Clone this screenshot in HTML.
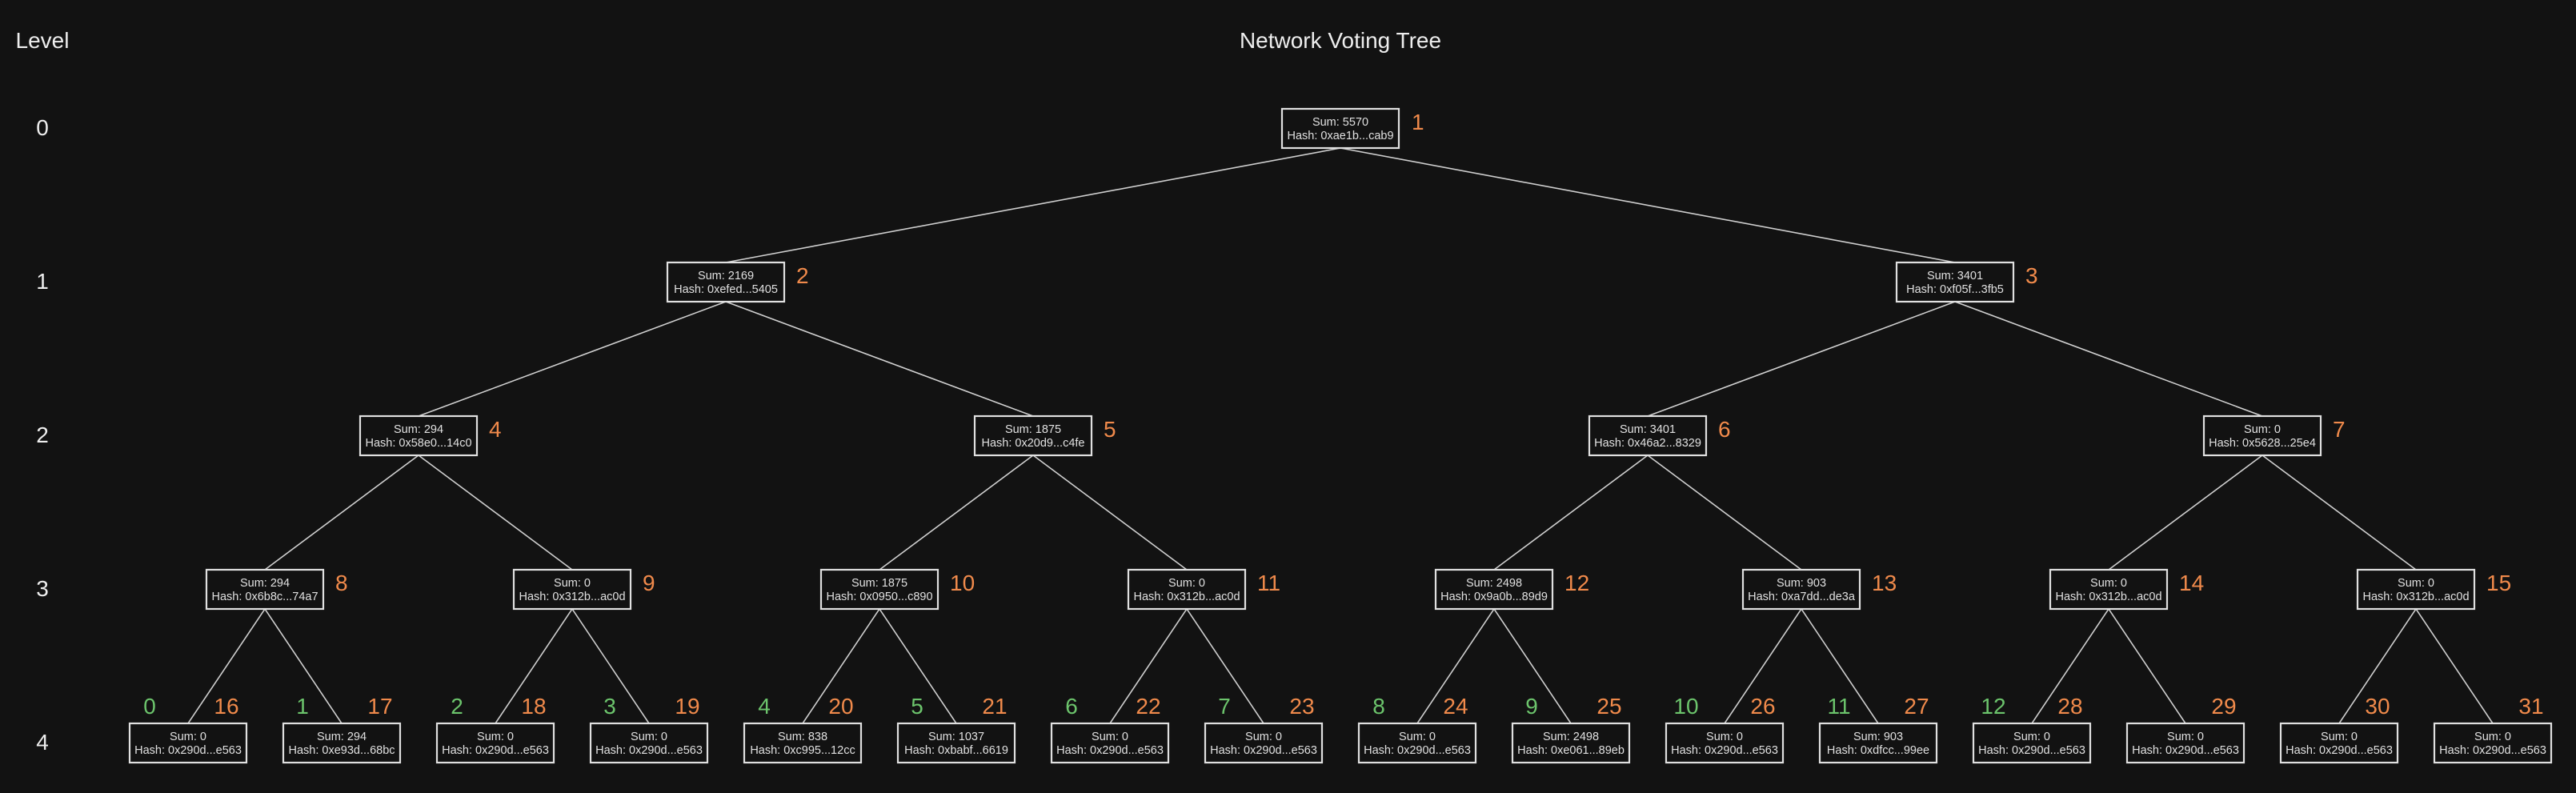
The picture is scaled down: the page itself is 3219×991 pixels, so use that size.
<!DOCTYPE html>
<html><head><meta charset="utf-8"><style>
html,body{margin:0;padding:0;background:#121212;}
svg{display:block;font-family:"Liberation Sans",sans-serif;}
.b rect{fill:#121212;stroke:#e0e0e0;stroke-width:2.2}
.b text{fill:#e0e0e0;font-size:14.5px;text-anchor:middle}
.o{fill:#f08a4b;font-size:28px}
.g{fill:#6cc46c;font-size:28px;text-anchor:middle}
.lv{fill:#eeeeee;font-size:28px;text-anchor:middle}
line{stroke:#cfcfcf;stroke-width:1.6}
</style></head><body>
<svg width="3219" height="991" viewBox="0 0 3219 991">
<rect width="3219" height="991" fill="#121212"/>
<text x="1675" y="60" fill="#eeeeee" font-size="28" text-anchor="middle">Network Voting Tree</text>
<text x="53" y="60" class="lv">Level</text>
<text x="53" y="169" class="lv">0</text>
<text x="53" y="361" class="lv">1</text>
<text x="53" y="553" class="lv">2</text>
<text x="53" y="745" class="lv">3</text>
<text x="53" y="937" class="lv">4</text>
<g>
<line x1="1675" y1="185" x2="907" y2="328"/><line x1="1675" y1="185" x2="2443" y2="328"/>
<line x1="907" y1="377" x2="523" y2="520"/><line x1="907" y1="377" x2="1291" y2="520"/>
<line x1="2443" y1="377" x2="2059" y2="520"/><line x1="2443" y1="377" x2="2827" y2="520"/>
<line x1="523" y1="569" x2="331" y2="712"/><line x1="523" y1="569" x2="715" y2="712"/>
<line x1="1291" y1="569" x2="1099" y2="712"/><line x1="1291" y1="569" x2="1483" y2="712"/>
<line x1="2059" y1="569" x2="1867" y2="712"/><line x1="2059" y1="569" x2="2251" y2="712"/>
<line x1="2827" y1="569" x2="2635" y2="712"/><line x1="2827" y1="569" x2="3019" y2="712"/>
<line x1="331" y1="761" x2="235" y2="904"/><line x1="331" y1="761" x2="427" y2="904"/>
<line x1="715" y1="761" x2="619" y2="904"/><line x1="715" y1="761" x2="811" y2="904"/>
<line x1="1099" y1="761" x2="1003" y2="904"/><line x1="1099" y1="761" x2="1195" y2="904"/>
<line x1="1483" y1="761" x2="1387" y2="904"/><line x1="1483" y1="761" x2="1579" y2="904"/>
<line x1="1867" y1="761" x2="1771" y2="904"/><line x1="1867" y1="761" x2="1963" y2="904"/>
<line x1="2251" y1="761" x2="2155" y2="904"/><line x1="2251" y1="761" x2="2347" y2="904"/>
<line x1="2635" y1="761" x2="2539" y2="904"/><line x1="2635" y1="761" x2="2731" y2="904"/>
<line x1="3019" y1="761" x2="2923" y2="904"/><line x1="3019" y1="761" x2="3115" y2="904"/>
</g>
<!-- level 0 -->
<g class="b" transform="translate(1675,160)"><rect x="-73" y="-24" width="146" height="49"/><text y="-3">Sum: 5570</text><text y="14">Hash: 0xae1b...cab9</text></g>
<text class="o" x="1764" y="162">1</text>
<!-- level 1 -->
<g class="b" transform="translate(907,352)"><rect x="-73" y="-24" width="146" height="49"/><text y="-3">Sum: 2169</text><text y="14">Hash: 0xefed...5405</text></g>
<text class="o" x="995" y="354">2</text>
<g class="b" transform="translate(2443,352)"><rect x="-73" y="-24" width="146" height="49"/><text y="-3">Sum: 3401</text><text y="14">Hash: 0xf05f...3fb5</text></g>
<text class="o" x="2531" y="354">3</text>
<!-- level 2 -->
<g class="b" transform="translate(523,544)"><rect x="-73" y="-24" width="146" height="49"/><text y="-3">Sum: 294</text><text y="14">Hash: 0x58e0...14c0</text></g>
<text class="o" x="611" y="546">4</text>
<g class="b" transform="translate(1291,544)"><rect x="-73" y="-24" width="146" height="49"/><text y="-3">Sum: 1875</text><text y="14">Hash: 0x20d9...c4fe</text></g>
<text class="o" x="1379" y="546">5</text>
<g class="b" transform="translate(2059,544)"><rect x="-73" y="-24" width="146" height="49"/><text y="-3">Sum: 3401</text><text y="14">Hash: 0x46a2...8329</text></g>
<text class="o" x="2147" y="546">6</text>
<g class="b" transform="translate(2827,544)"><rect x="-73" y="-24" width="146" height="49"/><text y="-3">Sum: 0</text><text y="14">Hash: 0x5628...25e4</text></g>
<text class="o" x="2915" y="546">7</text>
<!-- level 3 -->
<g class="b" transform="translate(331,736)"><rect x="-73" y="-24" width="146" height="49"/><text y="-3">Sum: 294</text><text y="14">Hash: 0x6b8c...74a7</text></g>
<text class="o" x="419" y="738">8</text>
<g class="b" transform="translate(715,736)"><rect x="-73" y="-24" width="146" height="49"/><text y="-3">Sum: 0</text><text y="14">Hash: 0x312b...ac0d</text></g>
<text class="o" x="803" y="738">9</text>
<g class="b" transform="translate(1099,736)"><rect x="-73" y="-24" width="146" height="49"/><text y="-3">Sum: 1875</text><text y="14">Hash: 0x0950...c890</text></g>
<text class="o" x="1187" y="738">10</text>
<g class="b" transform="translate(1483,736)"><rect x="-73" y="-24" width="146" height="49"/><text y="-3">Sum: 0</text><text y="14">Hash: 0x312b...ac0d</text></g>
<text class="o" x="1571" y="738">11</text>
<g class="b" transform="translate(1867,736)"><rect x="-73" y="-24" width="146" height="49"/><text y="-3">Sum: 2498</text><text y="14">Hash: 0x9a0b...89d9</text></g>
<text class="o" x="1955" y="738">12</text>
<g class="b" transform="translate(2251,736)"><rect x="-73" y="-24" width="146" height="49"/><text y="-3">Sum: 903</text><text y="14">Hash: 0xa7dd...de3a</text></g>
<text class="o" x="2339" y="738">13</text>
<g class="b" transform="translate(2635,736)"><rect x="-73" y="-24" width="146" height="49"/><text y="-3">Sum: 0</text><text y="14">Hash: 0x312b...ac0d</text></g>
<text class="o" x="2723" y="738">14</text>
<g class="b" transform="translate(3019,736)"><rect x="-73" y="-24" width="146" height="49"/><text y="-3">Sum: 0</text><text y="14">Hash: 0x312b...ac0d</text></g>
<text class="o" x="3107" y="738">15</text>
<!-- level 4 -->
<g class="b" transform="translate(235,928)"><rect x="-73" y="-24" width="146" height="49"/><text y="-3">Sum: 0</text><text y="14">Hash: 0x290d...e563</text></g>
<g class="b" transform="translate(427,928)"><rect x="-73" y="-24" width="146" height="49"/><text y="-3">Sum: 294</text><text y="14">Hash: 0xe93d...68bc</text></g>
<g class="b" transform="translate(619,928)"><rect x="-73" y="-24" width="146" height="49"/><text y="-3">Sum: 0</text><text y="14">Hash: 0x290d...e563</text></g>
<g class="b" transform="translate(811,928)"><rect x="-73" y="-24" width="146" height="49"/><text y="-3">Sum: 0</text><text y="14">Hash: 0x290d...e563</text></g>
<g class="b" transform="translate(1003,928)"><rect x="-73" y="-24" width="146" height="49"/><text y="-3">Sum: 838</text><text y="14">Hash: 0xc995...12cc</text></g>
<g class="b" transform="translate(1195,928)"><rect x="-73" y="-24" width="146" height="49"/><text y="-3">Sum: 1037</text><text y="14">Hash: 0xbabf...6619</text></g>
<g class="b" transform="translate(1387,928)"><rect x="-73" y="-24" width="146" height="49"/><text y="-3">Sum: 0</text><text y="14">Hash: 0x290d...e563</text></g>
<g class="b" transform="translate(1579,928)"><rect x="-73" y="-24" width="146" height="49"/><text y="-3">Sum: 0</text><text y="14">Hash: 0x290d...e563</text></g>
<g class="b" transform="translate(1771,928)"><rect x="-73" y="-24" width="146" height="49"/><text y="-3">Sum: 0</text><text y="14">Hash: 0x290d...e563</text></g>
<g class="b" transform="translate(1963,928)"><rect x="-73" y="-24" width="146" height="49"/><text y="-3">Sum: 2498</text><text y="14">Hash: 0xe061...89eb</text></g>
<g class="b" transform="translate(2155,928)"><rect x="-73" y="-24" width="146" height="49"/><text y="-3">Sum: 0</text><text y="14">Hash: 0x290d...e563</text></g>
<g class="b" transform="translate(2347,928)"><rect x="-73" y="-24" width="146" height="49"/><text y="-3">Sum: 903</text><text y="14">Hash: 0xdfcc...99ee</text></g>
<g class="b" transform="translate(2539,928)"><rect x="-73" y="-24" width="146" height="49"/><text y="-3">Sum: 0</text><text y="14">Hash: 0x290d...e563</text></g>
<g class="b" transform="translate(2731,928)"><rect x="-73" y="-24" width="146" height="49"/><text y="-3">Sum: 0</text><text y="14">Hash: 0x290d...e563</text></g>
<g class="b" transform="translate(2923,928)"><rect x="-73" y="-24" width="146" height="49"/><text y="-3">Sum: 0</text><text y="14">Hash: 0x290d...e563</text></g>
<g class="b" transform="translate(3115,928)"><rect x="-73" y="-24" width="146" height="49"/><text y="-3">Sum: 0</text><text y="14">Hash: 0x290d...e563</text></g>
<!-- leaf labels -->
<g text-anchor="middle">
<text class="g" x="187" y="892">0</text><text class="o" x="283" y="892" text-anchor="middle">16</text>
<text class="g" x="378" y="892">1</text><text class="o" x="475" y="892" text-anchor="middle">17</text>
<text class="g" x="571" y="892">2</text><text class="o" x="667" y="892" text-anchor="middle">18</text>
<text class="g" x="762" y="892">3</text><text class="o" x="859" y="892" text-anchor="middle">19</text>
<text class="g" x="955" y="892">4</text><text class="o" x="1051" y="892" text-anchor="middle">20</text>
<text class="g" x="1146" y="892">5</text><text class="o" x="1243" y="892" text-anchor="middle">21</text>
<text class="g" x="1339" y="892">6</text><text class="o" x="1435" y="892" text-anchor="middle">22</text>
<text class="g" x="1530" y="892">7</text><text class="o" x="1627" y="892" text-anchor="middle">23</text>
<text class="g" x="1723" y="892">8</text><text class="o" x="1819" y="892" text-anchor="middle">24</text>
<text class="g" x="1914" y="892">9</text><text class="o" x="2011" y="892" text-anchor="middle">25</text>
<text class="g" x="2107" y="892">10</text><text class="o" x="2203" y="892" text-anchor="middle">26</text>
<text class="g" x="2298" y="892">11</text><text class="o" x="2395" y="892" text-anchor="middle">27</text>
<text class="g" x="2491" y="892">12</text><text class="o" x="2587" y="892" text-anchor="middle">28</text>
<text class="o" x="2779" y="892" text-anchor="middle">29</text>
<text class="o" x="2971" y="892" text-anchor="middle">30</text>
<text class="o" x="3163" y="892" text-anchor="middle">31</text>
</g>
</svg>
</body></html>
